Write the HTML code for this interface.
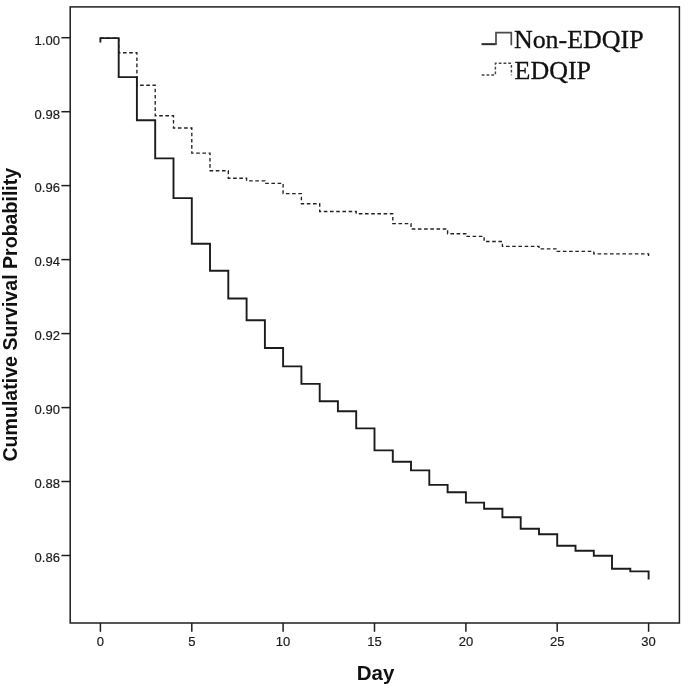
<!DOCTYPE html><html><head><meta charset="utf-8"><title>Survival</title><style>html,body{margin:0;padding:0;background:#fff}svg{display:block}text{font-family:"Liberation Sans",Arial,sans-serif;fill:#1c1c1c}.t{font-size:13px;stroke:#1c1c1c;stroke-width:.2px}.b{font-size:19.6px;font-weight:bold;fill:#111}.d{font-size:20.5px}.s{font-family:"Liberation Serif","Times New Roman",serif;font-size:25.4px;fill:#111;stroke:#111;stroke-width:.3px}</style></head><body>
<svg width="685" height="685" viewBox="0 0 685 685">
<rect width="685" height="685" fill="#fff"/>
<rect x="70.2" y="6.9" width="609.2" height="616.1" fill="none" stroke="#1e1e1e" stroke-width="1.5"/>
<line x1="61.4" x2="70.2" y1="37.7" y2="37.7" stroke="#1e1e1e" stroke-width="1.5"/>
<text class="t" x="59.9" y="44.5" text-anchor="end">1.00</text>
<line x1="61.4" x2="70.2" y1="111.7" y2="111.7" stroke="#1e1e1e" stroke-width="1.5"/>
<text class="t" x="59.9" y="118.5" text-anchor="end">0.98</text>
<line x1="61.4" x2="70.2" y1="185.6" y2="185.6" stroke="#1e1e1e" stroke-width="1.5"/>
<text class="t" x="59.9" y="192.4" text-anchor="end">0.96</text>
<line x1="61.4" x2="70.2" y1="259.6" y2="259.6" stroke="#1e1e1e" stroke-width="1.5"/>
<text class="t" x="59.9" y="266.4" text-anchor="end">0.94</text>
<line x1="61.4" x2="70.2" y1="333.6" y2="333.6" stroke="#1e1e1e" stroke-width="1.5"/>
<text class="t" x="59.9" y="340.4" text-anchor="end">0.92</text>
<line x1="61.4" x2="70.2" y1="407.6" y2="407.6" stroke="#1e1e1e" stroke-width="1.5"/>
<text class="t" x="59.9" y="414.4" text-anchor="end">0.90</text>
<line x1="61.4" x2="70.2" y1="481.5" y2="481.5" stroke="#1e1e1e" stroke-width="1.5"/>
<text class="t" x="59.9" y="488.3" text-anchor="end">0.88</text>
<line x1="61.4" x2="70.2" y1="555.5" y2="555.5" stroke="#1e1e1e" stroke-width="1.5"/>
<text class="t" x="59.9" y="562.3" text-anchor="end">0.86</text>
<line x1="100.4" x2="100.4" y1="623" y2="631.8" stroke="#1e1e1e" stroke-width="1.5"/>
<text class="t" x="100.4" y="645.8" text-anchor="middle">0</text>
<line x1="191.8" x2="191.8" y1="623" y2="631.8" stroke="#1e1e1e" stroke-width="1.5"/>
<text class="t" x="191.8" y="645.8" text-anchor="middle">5</text>
<line x1="283.1" x2="283.1" y1="623" y2="631.8" stroke="#1e1e1e" stroke-width="1.5"/>
<text class="t" x="283.1" y="645.8" text-anchor="middle">10</text>
<line x1="374.5" x2="374.5" y1="623" y2="631.8" stroke="#1e1e1e" stroke-width="1.5"/>
<text class="t" x="374.5" y="645.8" text-anchor="middle">15</text>
<line x1="465.9" x2="465.9" y1="623" y2="631.8" stroke="#1e1e1e" stroke-width="1.5"/>
<text class="t" x="465.9" y="645.8" text-anchor="middle">20</text>
<line x1="557.2" x2="557.2" y1="623" y2="631.8" stroke="#1e1e1e" stroke-width="1.5"/>
<text class="t" x="557.2" y="645.8" text-anchor="middle">25</text>
<line x1="648.6" x2="648.6" y1="623" y2="631.8" stroke="#1e1e1e" stroke-width="1.5"/>
<text class="t" x="648.6" y="645.8" text-anchor="middle">30</text>
<path d="M100.4 38.1H118.7V52.7H136.9V85.2H155.2V115.7H173.5V128.0H191.8V153.1H210.0V170.7H228.3V178.2H246.6V180.8H264.9V183.3H283.1V193.6H301.4V203.7H319.7V211.5H337.9V211.5H356.2V213.7H374.5V213.7H392.8V223.6H411.0V229.0H429.3V229.0H447.6V233.7H465.9V236.3H484.1V241.5H502.4V246.3H520.7V246.3H539.0V248.9H557.2V251.4H575.5V251.4H593.8V253.9H612.0V253.9H630.3V253.9H648.6V256.3" fill="none" stroke="#222" stroke-width="1.35" stroke-dasharray="3.6 2.6"/>
<path d="M100.4 42.5V38.1H118.7V77.1H136.9V120.2H155.2V158.4H173.5V198.1H191.8V243.7H210.0V270.7H228.3V298.5H246.6V320.2H264.9V348.0H283.1V366.4H301.4V383.9H319.7V401.3H337.9V411.3H356.2V428.4H374.5V450.4H392.8V461.7H411.0V470.4H429.3V484.9H447.6V492.3H465.9V502.6H484.1V508.8H502.4V517.3H520.7V528.8H539.0V534.2H557.2V545.8H575.5V550.7H593.8V555.7H612.0V568.8H630.3V571.4H648.6V579.4" fill="none" stroke="#1c1c1c" stroke-width="1.9" stroke-linejoin="miter"/>
<path d="M481.5 44.15H496" fill="none" stroke="#2a2a2a" stroke-width="2"/><path d="M496 45.1V32.7H511.3V45.2" fill="none" stroke="#4a4a4a" stroke-width="1.7"/>
<path d="M481.7 75H495.4V63.2H511.4V75.2" fill="none" stroke="#444" stroke-width="1.45" stroke-dasharray="2.8 2"/>
<text class="s" transform="translate(513.9 48.2) scale(1.022 1)">Non-EDQIP</text>
<text class="s" transform="translate(514.6 78.7) scale(1.022 1)">EDQIP</text>
<text class="b d" x="375.5" y="679.8" text-anchor="middle">Day</text>
<text class="b" transform="translate(16.9 314.7) rotate(-90) scale(1 1.03)" text-anchor="middle">Cumulative Survival Probability</text>
</svg></body></html>
